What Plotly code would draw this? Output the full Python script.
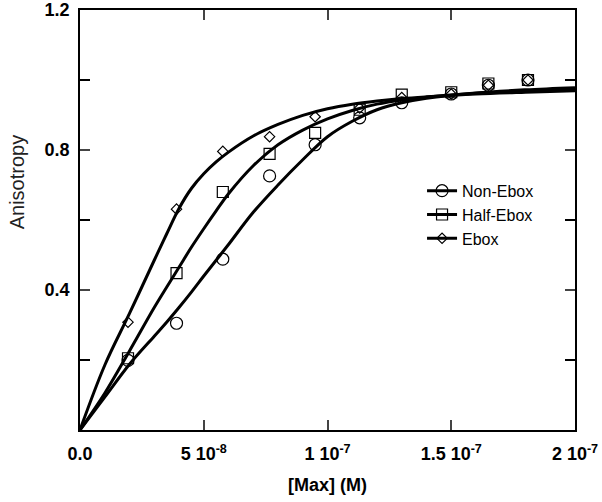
import plotly.graph_objects as go

# concentrations of measured points (M)
conc = [1.94e-8, 3.9e-8, 5.77e-8, 7.66e-8, 9.5e-8, 1.13e-7, 1.30e-7, 1.50e-7, 1.65e-7, 1.81e-7]
non_ebox = [0.199, 0.305, 0.488, 0.726, 0.815, 0.892, 0.935, 0.960, 0.985, 1.000]
half_ebox = [0.205, 0.448, 0.680, 0.789, 0.849, 0.915, 0.958, 0.965, 0.990, 1.000]
ebox = [0.308, 0.631, 0.796, 0.838, 0.895, 0.920, 0.950, 0.960, 0.985, 1.000]

# fitted curves
curve_x = [0, 1e-8, 2e-8, 3e-8, 3.5e-8, 4e-8, 4.5e-8, 5e-8, 5.5e-8, 6e-8, 7e-8, 8e-8, 9e-8,
           1.0e-7, 1.1e-7, 1.2e-7, 1.3e-7, 1.4e-7, 1.6e-7, 1.8e-7, 2.0e-7]
curve_non = [0, 0.094, 0.188, 0.268, 0.308, 0.350, 0.394, 0.440, 0.485, 0.530, 0.622, 0.700,
             0.772, 0.838, 0.882, 0.915, 0.935, 0.948, 0.963, 0.972, 0.978]
curve_half = [0, 0.105, 0.226, 0.350, 0.408, 0.465, 0.522, 0.575, 0.626, 0.675, 0.755, 0.815,
              0.857, 0.889, 0.913, 0.931, 0.943, 0.951, 0.962, 0.969, 0.974]
curve_ebox = [0, 0.185, 0.333, 0.485, 0.560, 0.633, 0.690, 0.732, 0.766, 0.794, 0.840, 0.873,
              0.899, 0.918, 0.931, 0.940, 0.947, 0.952, 0.960, 0.965, 0.969]

x_tickvals = [0, 5e-8, 1e-7, 1.5e-7, 2e-7]
x_ticktext = ["0.0", "5 10<sup>-8</sup>", "1 10<sup>-7</sup>", "1.5 10<sup>-7</sup>", "2 10<sup>-7</sup>"]
y_tickvals = [0.4, 0.8, 1.2]
y_ticktext = ["0.4", "0.8", "1.2"]
y_minor_tickvals = [0.2, 0.6, 1.0]

series = [
    ("Non-Ebox", non_ebox, curve_non, "circle-open", 12),
    ("Half-Ebox", half_ebox, curve_half, "square-open", 11),
    ("Ebox", ebox, curve_ebox, "diamond-open", 8),
]

FONT = "Arial, Liberation Sans, sans-serif"

fig = go.Figure()
for name, pts, cur, sym, sz in series:
    fig.add_trace(go.Scatter(x=curve_x, y=cur, mode="lines",
                             line=dict(color="black", width=3, shape="spline", smoothing=1.0),
                             showlegend=False, hoverinfo="skip"))
    fig.add_trace(go.Scatter(x=conc, y=pts, mode="markers",
                             marker=dict(symbol=sym, size=sz, color="black", line=dict(width=1.2, color="black")),
                             showlegend=False))
    fig.add_trace(go.Scatter(x=[None], y=[None], mode="lines+markers", name=name,
                             line=dict(color="black", width=3),
                             marker=dict(symbol=sym, size=sz, color="black", line=dict(width=1.2, color="black"))))

fig.update_layout(
    width=602, height=502,
    margin=dict(l=80, r=27, t=10, b=72),
    plot_bgcolor="white", paper_bgcolor="white",
    font=dict(family=FONT, color="black"),
    showlegend=True,
    legend=dict(x=0.691, y=0.61, xanchor="left", yanchor="top", bgcolor="rgba(0,0,0,0)",
                font=dict(size=16), tracegroupgap=0, itemwidth=30),
    xaxis=dict(range=[0, 2e-7], tickvals=x_tickvals, ticktext=x_ticktext, ticks="inside", ticklen=10,
               tickwidth=1.5, showline=True, linecolor="black", linewidth=1.5, mirror="ticks",
               showgrid=False, zeroline=False, ticklabelstandoff=7, automargin=False,
               tickfont=dict(size=18, family=FONT, weight="bold"),
               title=dict(text="<b>[Max] (M)</b>", font=dict(size=18), standoff=15)),
    yaxis=dict(range=[0, 1.2], tickvals=y_tickvals, ticktext=y_ticktext, ticks="inside", ticklen=10,
               tickwidth=1.5, showline=True, linecolor="black", linewidth=1.5, mirror="ticks",
               showgrid=False, zeroline=False, ticklabelstandoff=5, automargin=False,
               minor=dict(tickvals=y_minor_tickvals, ticks="inside", ticklen=10, tickwidth=1.5,
                          tickcolor="black", showgrid=False),
               tickfont=dict(size=18, family=FONT, weight="bold")),
    annotations=[dict(text="Anisotropy", xref="paper", yref="paper", x=-0.127, y=0.59,
                      xanchor="center", yanchor="middle",
                      textangle=-90, showarrow=False, font=dict(size=20, color="#222"))],
)

fig.write_html("out.html", config={"displayModeBar": False},
               post_script="document.body.style.margin='0px';")
